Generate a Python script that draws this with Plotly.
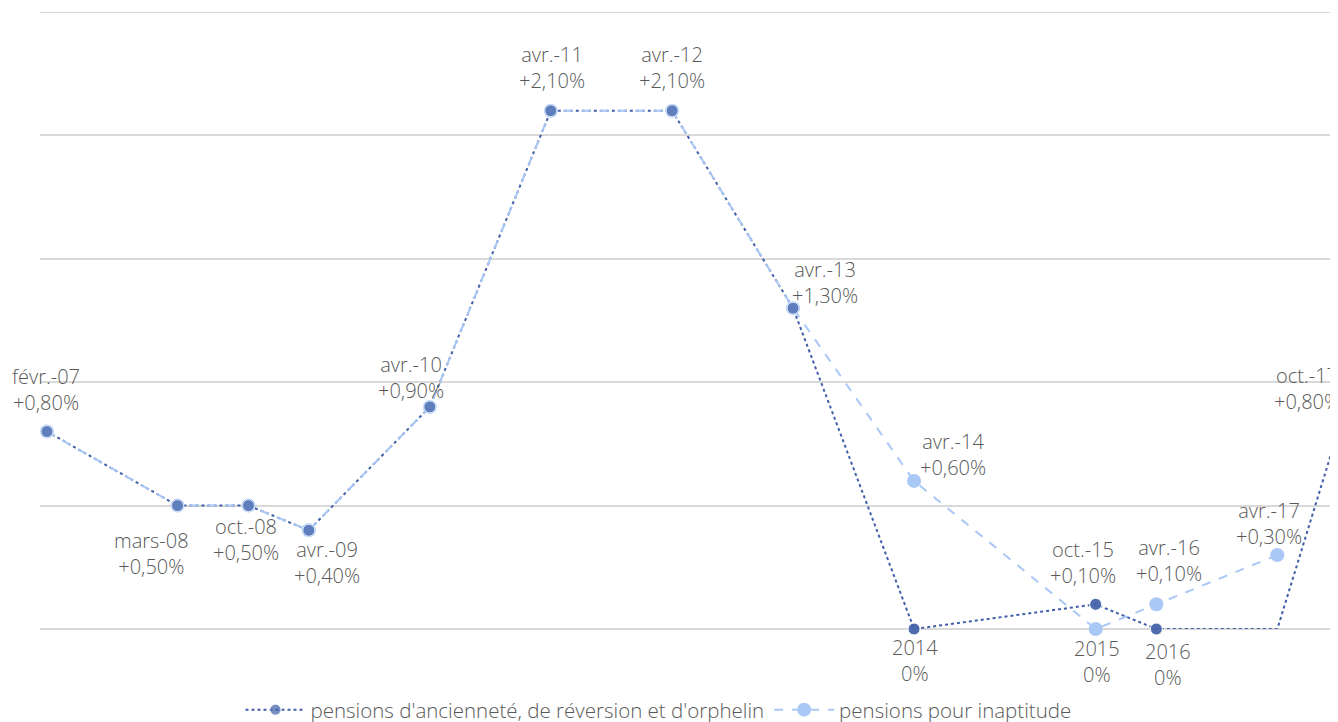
import plotly.graph_objects as go

# pensions d'ancienneté, de réversion et d'orphelin
dates_anc = ["2007-02-01", "2008-03-01", "2008-10-01", "2009-04-01", "2010-04-01",
             "2011-04-01", "2012-04-01", "2013-04-01", "2014-04-01", "2015-10-01",
             "2016-04-01", "2017-04-01", "2017-10-01"]
val_anc = [0.8, 0.5, 0.5, 0.4, 0.9, 2.1, 2.1, 1.3, 0.0, 0.1, 0.0, 0.0, 0.8]
lab_anc = ["févr.-07", "mars-08", "oct.-08", "avr.-09", "avr.-10", "avr.-11", "avr.-12",
           "avr.-13", "2014", "oct.-15", "2016", "", "oct.-17"]

# pensions pour inaptitude
dates_inap = ["2007-02-01", "2008-03-01", "2008-10-01", "2009-04-01", "2010-04-01",
              "2011-04-01", "2012-04-01", "2013-04-01", "2014-04-01", "2015-10-01",
              "2016-04-01", "2017-04-01"]
val_inap = [0.8, 0.5, 0.5, 0.4, 0.9, 2.1, 2.1, 1.3, 0.6, 0.0, 0.1, 0.3]
lab_inap = ["", "", "", "", "", "", "", "", "avr.-14", "2015", "avr.-16", "avr.-17"]

# label offsets in pixels (x, y)
off_anc = [(-1, 42), (-26, -48), (-2, -34), (18, -32), (-19, 29), (1, 43), (0, 43),
           (32, 26), (1, -31), (-13, 42), (12, -35), (0, 0), (-31, 43)]
off_inap = [(0, 0)] * 8 + [(39, 26), (1, -32), (13, 44), (-8, 31)]

DARK = "#3f5fa8"
LIGHT = "#a9c8f5"
TXT = "#595959"
GRID = "#d9d9d9"
NAME_ANC = "pensions d'ancienneté, de réversion et d'orphelin"


def pct(v):
    if v == 0:
        return "0%"
    return "+" + f"{v:.2f}".replace(".", ",") + "%"


dark_sizes = [12 if l else 0 for l in lab_anc]

fig = go.Figure()

fig.add_trace(go.Scatter(
    x=dates_anc, y=val_anc, mode="lines+markers", name=NAME_ANC,
    line=dict(color=DARK, width=2, dash="dot"),
    marker=dict(color=DARK, size=dark_sizes), cliponaxis=False))

fig.add_trace(go.Scatter(
    x=dates_inap, y=val_inap, mode="lines+markers", name="pensions pour inaptitude",
    line=dict(color=LIGHT, width=2, dash="dash"),
    marker=dict(color=LIGHT, size=14), cliponaxis=False))

# dark markers again on top of the light ones
fig.add_trace(go.Scatter(
    x=dates_anc, y=val_anc, mode="markers", showlegend=False, hoverinfo="skip",
    marker=dict(color=DARK, size=dark_sizes), cliponaxis=False))

annots = []
for d, v, l, o in list(zip(dates_anc, val_anc, lab_anc, off_anc)) + list(zip(dates_inap, val_inap, lab_inap, off_inap)):
    if not l:
        continue
    annots.append(dict(x=d, y=v, text=l + "<br>" + pct(v), showarrow=False,
                       xshift=o[0], yshift=o[1], xanchor="center", yanchor="middle",
                       font=dict(family="Open Sans", size=20, color=TXT, weight=300)))

# top gridline (plotly skips the one sitting on the plot edge)
fig.add_shape(type="line", xref="paper", x0=0, x1=1, yref="y", y0=2.5, y1=2.5,
              line=dict(color=GRID, width=2), layer="below")

# page body adds an 8px offset, margins account for it
fig.update_layout(
    width=1338, height=722,
    margin=dict(l=32, r=8, t=4, b=101, autoexpand=False),
    plot_bgcolor="white", paper_bgcolor="white",
    annotations=annots,
    showlegend=True,
    legend=dict(orientation="h", x=0.4765, xanchor="center", y=-0.131, yanchor="middle",
                itemwidth=60,
                font=dict(family="Open Sans", size=20.5, color=TXT, weight=300)),
    xaxis=dict(range=["2007-01-11", "2017-10-01"], showgrid=False, showticklabels=False,
               zeroline=False, showline=False, ticks=""),
    yaxis=dict(range=[0, 2.5], tick0=0, dtick=0.5, showticklabels=False, gridcolor=GRID,
               gridwidth=2, zeroline=True, zerolinecolor=GRID, zerolinewidth=2,
               showline=False, ticks=""),
)

fig.write_html("out.html")
